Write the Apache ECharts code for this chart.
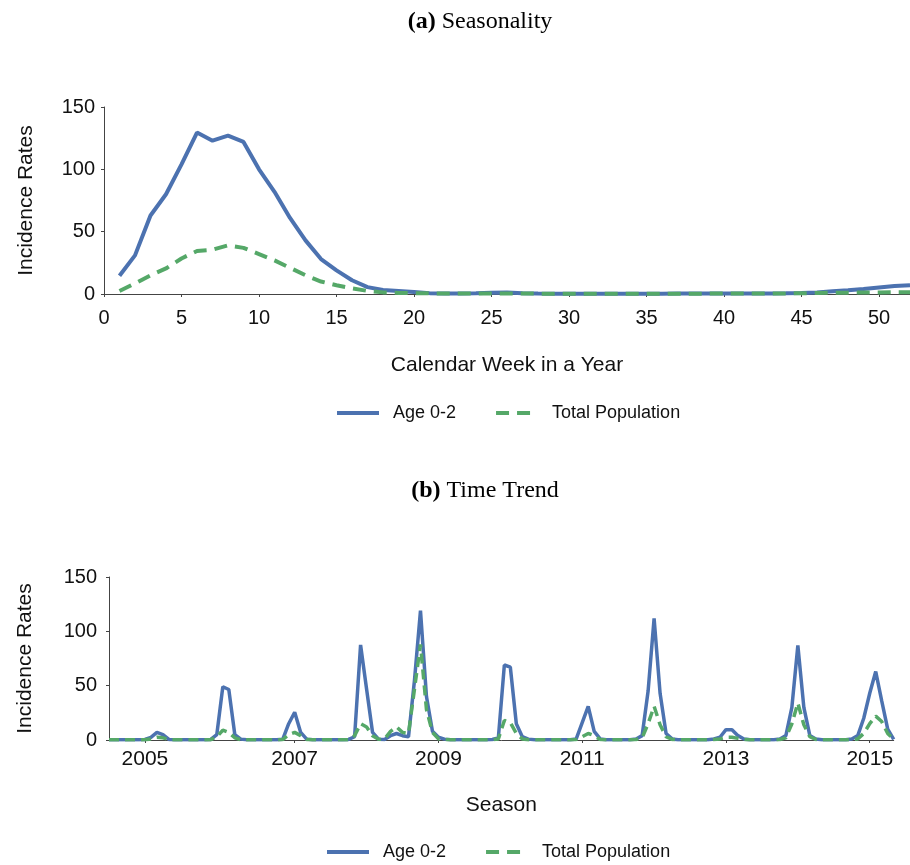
<!DOCTYPE html>
<html>
<head>
<meta charset="utf-8">
<script src="https://cdn.jsdelivr.net/npm/echarts@6/dist/echarts.min.js"></script>
<style>
  html, body { margin: 0; padding: 0; background: #fff; }
  #chart { width: 910px; height: 865px; }
</style>
</head>
<body>
<div id="chart"></div>
<script>
// (a) Seasonality: mean weekly incidence by calendar week
const weeks = [1, 2, 3, 4, 5, 6, 7, 8, 9, 10, 11, 12, 13, 14, 15, 16, 17, 18, 19, 20,
  21, 22, 23, 24, 25, 26, 27, 28, 29, 30, 31, 32, 33, 34, 35, 36, 37, 38, 39, 40,
  41, 42, 43, 44, 45, 46, 47, 48, 49, 50, 51, 52];
const weeklyAge02 = [14.7, 31, 63, 80, 104, 129.5, 123, 127, 122, 100, 82, 61, 43, 28, 19, 11, 5.5, 3.2, 2.4, 1.6,
  0.7, 0.5, 0.5, 0.7, 1.1, 1.3, 0.7, 0.4, 0.3, 0.3, 0.3, 0.3, 0.3, 0.3, 0.3, 0.3, 0.4, 0.4, 0.5, 0.5,
  0.5, 0.4, 0.5, 0.6, 0.8, 1.3, 2.2, 3, 4, 5.2, 6.4, 7];
const weeklyTotal = [2.4, 8.5, 15, 20.5, 28.5, 34.5, 35.5, 39, 37, 32, 27, 21, 15, 10, 7, 4.5, 2.5, 1.3, 0.9, 0.7,
  0.5, 0.4, 0.4, 0.4, 0.5, 0.5, 0.4, 0.3, 0.3, 0.3, 0.3, 0.3, 0.3, 0.3, 0.3, 0.3, 0.3, 0.3, 0.3, 0.4,
  0.4, 0.4, 0.4, 0.5, 0.6, 0.8, 1, 1.1, 1.2, 1.3, 1.4, 1.4];
const weekTickLabels = ['0', '5', '10', '15', '20', '25', '30', '35', '40', '45', '50'];

// (b) Time trend: monthly incidence, July 2004 to June 2015
const monthLabels = [];
for (let y = 2004; y <= 2015; y++) {
  for (let m = 1; m <= 12; m++) {
    if ((y === 2004 && m < 7) || (y === 2015 && m > 6)) continue;
    monthLabels.push(y + '-' + String(m).padStart(2, '0'));
  }
}
const monthlyAge02 = [
  0.3, 0.3, 0.3, 0.3, 0.3, 0.3, 0.5, 2.5, 7, 5, 0.5, 0.3,
  0.3, 0.3, 0.3, 0.3, 0.3, 0.5, 5, 49, 46.5, 5, 0.8, 0.3,
  0.3, 0.3, 0.3, 0.3, 0.3, 0.6, 15, 25.5, 7, 0.8, 0.3, 0.3,
  0.3, 0.3, 0.3, 0.3, 0.5, 3, 87.5, 47, 7, 0.8, 0.5, 4,
  6, 4, 3, 55, 119, 40, 8, 2.5, 0.8, 0.3, 0.3, 0.3,
  0.3, 0.3, 0.3, 0.3, 0.5, 2, 69, 67, 15, 3, 0.8, 0.3,
  0.3, 0.3, 0.3, 0.3, 0.3, 0.3, 1, 16, 31, 8, 1, 0.3,
  0.3, 0.3, 0.3, 0.3, 1, 4, 45, 112, 43, 6, 1, 0.3,
  0.3, 0.3, 0.3, 0.3, 0.3, 1, 2.5, 9.5, 9.5, 4, 1, 0.3,
  0.3, 0.3, 0.3, 0.3, 1, 4, 30, 87, 30, 4, 1, 0.3,
  0.3, 0.3, 0.3, 0.3, 1, 4, 20, 43, 63, 36, 10, 0.5
];
const monthlyTotal = [
  0.2, 0.2, 0.2, 0.2, 0.2, 0.2, 0.2, 1, 2.5, 2, 0.3, 0.2,
  0.2, 0.2, 0.2, 0.2, 0.2, 0.3, 3, 9, 7, 2, 0.3, 0.2,
  0.2, 0.2, 0.2, 0.2, 0.2, 0.4, 5, 7, 4, 0.5, 0.2, 0.2,
  0.2, 0.2, 0.2, 0.2, 0.3, 4, 15, 12, 4, 0.6, 1, 8,
  12, 7, 6, 47, 88, 28, 7, 1, 0.4, 0.2, 0.2, 0.2,
  0.2, 0.2, 0.2, 0.2, 0.3, 1, 18, 16, 6, 1, 0.3, 0.2,
  0.2, 0.2, 0.2, 0.2, 0.2, 0.2, 0.5, 3, 6, 4, 0.5, 0.2,
  0.2, 0.2, 0.2, 0.2, 0.5, 2, 15, 31, 14, 3, 0.5, 0.2,
  0.2, 0.2, 0.2, 0.2, 0.2, 0.5, 1, 2.5, 2.5, 1.5, 0.5, 0.2,
  0.2, 0.2, 0.2, 0.2, 0.5, 2, 15, 34, 14, 3, 0.5, 0.2,
  0.2, 0.2, 0.2, 0.2, 0.4, 1, 6, 15, 22, 17, 6, 0.5
];
const seasonTickIndex = [6, 31, 55, 79, 103, 127];
const seasonTickLabels = ['2005', '2007', '2009', '2011', '2013', '2015'];

const SANS = 'Liberation Sans, Arial, sans-serif';
const SERIF = 'Liberation Serif, Times New Roman, serif';
const BLUE = '#4C72B0';
const GREEN = '#55A868';
const AXIS = '#444';

const isSeasonTick = (index) => seasonTickIndex.indexOf(index) !== -1;

function panelTitle(letter, text, centerX, top) {
  return {
    text: '{b|(' + letter + ')} ' + text,
    left: centerX, top: top, textAlign: 'center',
    textStyle: {
      fontFamily: SERIF, fontSize: 24, fontWeight: 'normal', color: '#000',
      rich: { b: { fontFamily: SERIF, fontSize: 24, fontWeight: 'bold', color: '#000' } }
    }
  };
}

function legendAt(left, top) {
  return {
    left: left, top: top, orient: 'horizontal',
    itemWidth: 42, itemHeight: 14, itemGap: 38,
    data: ['Age 0-2', 'Total Population'],
    itemStyle: { opacity: 0 },
    lineStyle: { width: 4 },
    textStyle: { fontFamily: SANS, fontSize: 18, color: '#111', padding: [0, 0, 0, 9] }
  };
}

const valueYAxis = (gridIndex, nameGap, margin) => ({
  type: 'value', gridIndex: gridIndex, min: 0, max: 150, interval: 50,
  name: 'Incidence Rates', nameLocation: 'middle', nameGap: nameGap,
  nameTextStyle: { fontFamily: SANS, fontSize: 21, color: '#111' },
  axisLine: { show: true, lineStyle: { color: AXIS, width: 1 } },
  axisTick: { show: true, length: 3, lineStyle: { color: AXIS } },
  axisLabel: { fontFamily: SANS, fontSize: 20, color: '#111', margin: margin },
  splitLine: { show: false }
});

const chart = echarts.init(document.getElementById('chart'), null, { renderer: 'canvas' });
chart.setOption({
  animation: false,
  backgroundColor: '#fff',
  title: [
    panelTitle('a', 'Seasonality', 475, 5),
    panelTitle('b', 'Time Trend', 480, 474)
  ],
  legend: [legendAt(330, 399), legendAt(320, 838)],
  grid: [
    { left: 104, top: 107, width: 813.3, height: 187 },
    { left: 109, top: 577, width: 784.7, height: 163 }
  ],
  xAxis: [
    {
      type: 'value', gridIndex: 0, min: 0, max: 52, interval: 5,
      name: 'Calendar Week in a Year', nameLocation: 'middle', nameGap: 61,
      nameTextStyle: { fontFamily: SANS, fontSize: 21, color: '#111' },
      axisLine: { show: true, lineStyle: { color: AXIS, width: 1 } },
      axisTick: { show: true, length: 3, lineStyle: { color: AXIS } },
      axisLabel: {
        fontFamily: SANS, fontSize: 20, color: '#111', margin: 14, showMaxLabel: false,
        formatter: (v) => weekTickLabels[Math.round(v / 5)] || ''
      },
      splitLine: { show: false }
    },
    {
      type: 'category', gridIndex: 1, data: monthLabels, boundaryGap: false,
      name: 'Season', nameLocation: 'middle', nameGap: 55,
      nameTextStyle: { fontFamily: SANS, fontSize: 21, color: '#111' },
      axisLine: { show: true, lineStyle: { color: AXIS, width: 1 } },
      axisTick: { show: true, length: 3, interval: (i) => isSeasonTick(i), lineStyle: { color: AXIS } },
      axisLabel: {
        fontFamily: SANS, fontSize: 21, color: '#111', margin: 9,
        interval: (i) => isSeasonTick(i),
        formatter: (v, i) => seasonTickLabels[seasonTickIndex.indexOf(i)] || ''
      },
      splitLine: { show: false }
    }
  ],
  yAxis: [valueYAxis(0, 67, 9), valueYAxis(1, 73, 12)],
  series: [
    {
      name: 'Age 0-2', type: 'line', xAxisIndex: 0, yAxisIndex: 0, symbol: 'none',
      data: weeks.map((w, k) => [w, weeklyAge02[k]]),
      lineStyle: { color: BLUE, width: 4 }, itemStyle: { color: BLUE }
    },
    {
      name: 'Total Population', type: 'line', xAxisIndex: 0, yAxisIndex: 0, symbol: 'none',
      data: weeks.map((w, k) => [w, weeklyTotal[k]]),
      lineStyle: { color: GREEN, width: 4, type: [13, 8] }, itemStyle: { color: GREEN }
    },
    {
      name: 'Age 0-2', type: 'line', xAxisIndex: 1, yAxisIndex: 1, symbol: 'none',
      data: monthlyAge02,
      lineStyle: { color: BLUE, width: 3.5 }, itemStyle: { color: BLUE }
    },
    {
      name: 'Total Population', type: 'line', xAxisIndex: 1, yAxisIndex: 1, symbol: 'none',
      data: monthlyTotal,
      lineStyle: { color: GREEN, width: 3.5, type: [10, 6] }, itemStyle: { color: GREEN }
    }
  ]
});
</script>
</body>
</html>
